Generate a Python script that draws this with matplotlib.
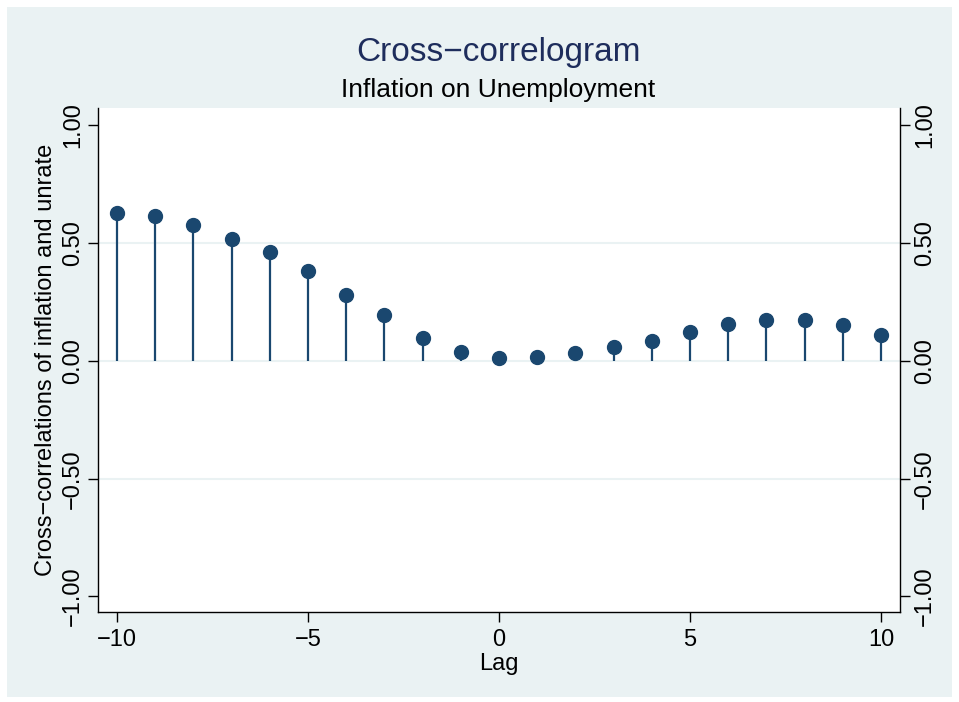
import numpy as np
import matplotlib.pyplot as plt
from matplotlib.patches import Rectangle

plt.rcParams['font.family'] = ['Liberation Sans', 'DejaVu Sans']

lags = list(range(-10, 11))
ccf = [0.628, 0.617, 0.579, 0.518, 0.461, 0.382, 0.280, 0.194, 0.099, 0.038,
       0.014, 0.016, 0.035, 0.058, 0.086, 0.122, 0.156, 0.174, 0.175, 0.152, 0.112]
yticks = [-1.0, -0.5, 0.0, 0.5, 1.0]
ytick_labels = ['\u22121.00', '\u22120.50', '0.00', '0.50', '1.00']
xticks = [-10, -5, 0, 5, 10]
xtick_labels = ['\u221210', '\u22125', '0', '5', '10']

navy = '#1A476F'
title_col = '#1E2D5C'
bg = '#EAF2F3'
W, H = 959, 702

fig = plt.figure(figsize=(W / 100, H / 100), dpi=100, facecolor='white')
fig.patches.append(Rectangle((7 / W, 5 / H), 945 / W, 690 / H, transform=fig.transFigure,
                             facecolor=bg, edgecolor='none', zorder=-10))

ax = fig.add_axes([98 / W, 1 - 612 / H, 802 / W, 504 / H])
ax.set_facecolor('white')
ax.set_xlim(-10.5, 10.5)
ax.set_ylim(-1.066, 1.074)

# light grid lines like the Stata scheme
for g in [-0.5, 0.0, 0.5]:
    ax.axhline(g, color=bg, lw=1.5, zorder=1)

ax.vlines(lags, 0, ccf, color=navy, lw=1.6, zorder=2)
ax.plot(lags, ccf, 'o', color=navy, ms=10, zorder=3)

ax.set_yticks(yticks)
ax.set_yticklabels(ytick_labels)
ax.set_xticks(xticks)
ax.set_xticklabels(xtick_labels)
ax.tick_params(axis='both', labelsize=17, length=7, width=1, direction='out')
ax.tick_params(axis='y', right=True, labelright=True, pad=3)
ax.tick_params(axis='x', pad=5)
for t in ax.yaxis.get_major_ticks():
    for lab in (t.label1, t.label2):
        lab.set_rotation(90)
        lab.set_va('center')

ax.spines['top'].set_visible(False)
for s in ['left', 'right', 'bottom']:
    ax.spines[s].set_color('black')
    ax.spines[s].set_linewidth(1)

ax.set_xlabel('Lag', fontsize=17, labelpad=2)
ax.set_ylabel('Cross\u2212correlations of inflation and unrate', fontsize=17, labelpad=4)

fig.text(498 / W, 1 - 52 / H, 'Cross\u2212correlogram', ha='center', va='center',
         fontsize=24, color=title_col)
fig.text(498 / W, 1 - 90 / H, 'Inflation on Unemployment', ha='center', va='center',
         fontsize=19, color='black')

fig.savefig('out.png', dpi=100, facecolor='white')
